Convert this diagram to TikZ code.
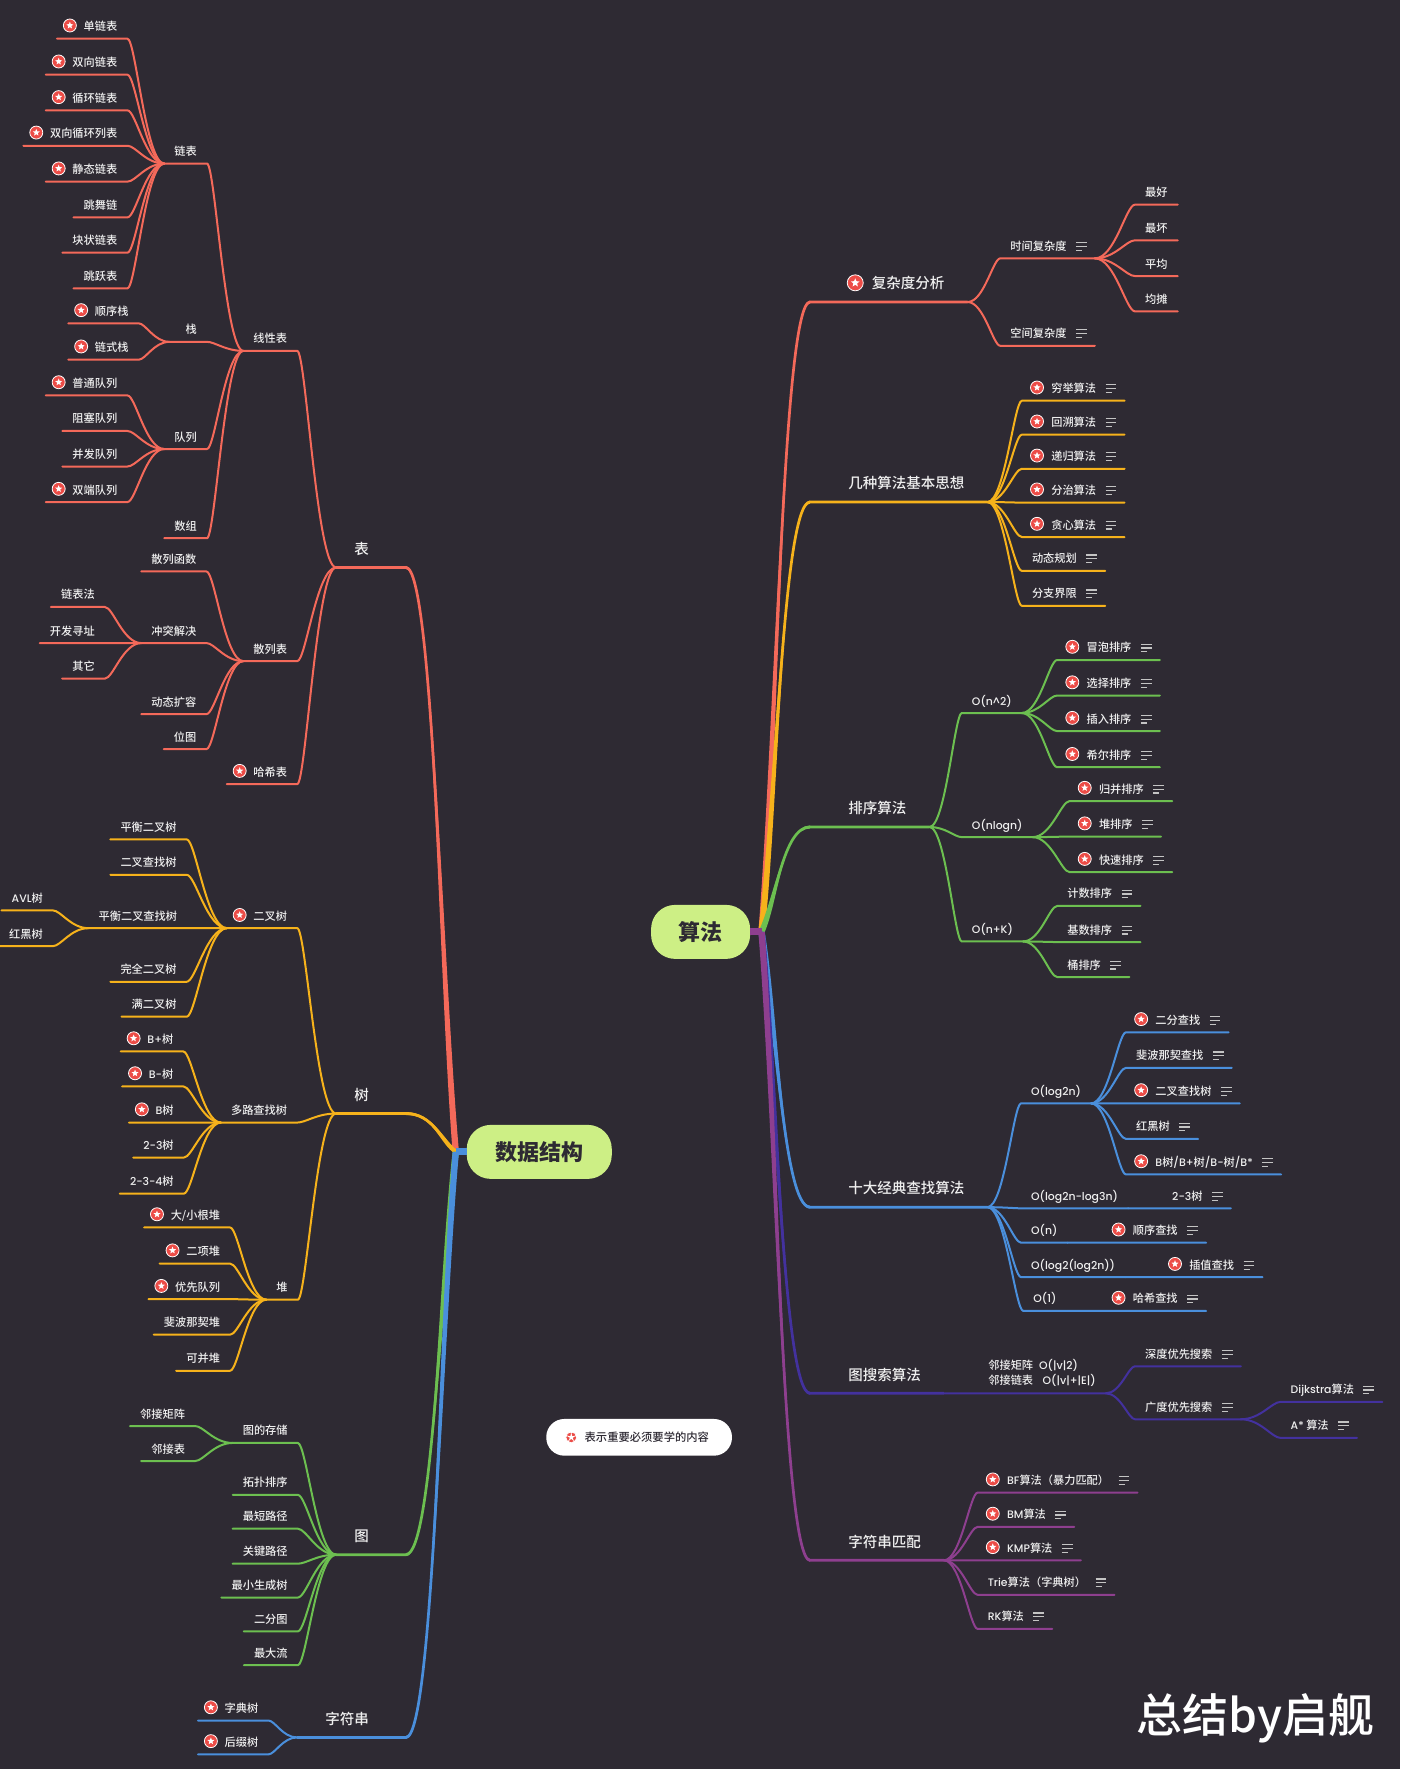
\documentclass[tikz,border=0pt]{standalone}
\usepackage{xcolor}
\usepackage{fontspec}
\setmainfont{Noto Sans CJK SC Medium}
\newfontfamily\lat[Scale=0.97]{Poppins Medium}
\usepackage{tikz}
\usetikzlibrary{calc}

\definecolor{cBg}{HTML}{2E2A33}
\definecolor{cText}{HTML}{EFEFEF}
\definecolor{cNote}{HTML}{C4C4C4}
\definecolor{cRoot}{HTML}{CDEF85}
\definecolor{cStar}{HTML}{EC4C47}
\definecolor{cRed}{HTML}{F4695A}
\definecolor{cOrange}{HTML}{F6B21B}
\definecolor{cGreen}{HTML}{6CBF50}
\definecolor{cBlue}{HTML}{4A8FDC}
\definecolor{cIndigo}{HTML}{43319E}
\definecolor{cPurple}{HTML}{8E3F8F}

\newcommand{\noteicon}{\hspace*{9.5pt}\raisebox{-.5pt}{\color{cNote}\vbox{\hrule width 10.7pt height 1.1pt \vskip 2.8pt \hrule width 10.7pt height 1.1pt \vskip 2.8pt \hrule width 6pt height 1.1pt}}\hspace*{-2pt}}
\newcommand{\starmark}[2]{
  \coordinate (sm) at ([xshift=#1]path picture bounding box.west);
  \fill[cStar, draw=white, line width=.8pt] (sm) circle (#2);
  \fill[white] ([shift={(90:.57*#2)}]sm) -- ([shift={(126:.25*#2)}]sm) -- ([shift={(162:.57*#2)}]sm)
    -- ([shift={(198:.25*#2)}]sm) -- ([shift={(234:.57*#2)}]sm) -- ([shift={(270:.25*#2)}]sm)
    -- ([shift={(306:.57*#2)}]sm) -- ([shift={(342:.25*#2)}]sm) -- ([shift={(18:.57*#2)}]sm)
    -- ([shift={(54:.25*#2)}]sm) -- cycle;
}
\newcommand{\trunk}[5]{
  \fill[#1] ([xshift=-3.2pt]#2) .. controls ($(#2)!.3!(#3)+(-2.4pt,0)$) and ($(#3)+(#5,0)+(0,-1.5pt)$) .. ($(#3)+(0,-1.5pt)$)
    -- ($(#3)+(0,1.5pt)$) .. controls ($(#3)+(#5,0)+(0,1.5pt)$) and ($(#2)!.3!(#3)+(2.4pt,0)$) .. ([xshift=3.2pt]#2) -- cycle;
  \draw[#1, line width=2.7pt] (#2) .. controls ($(#2)!.3!(#3)$) and ($(#3)+(#5,0)$) .. (#3) -- (#4);
}

\begin{document}
\begin{tikzpicture}[
  x=1.1281pt, y=-1.1281pt,
  leaf/.style = {inner xsep=10pt, inner ysep=0pt, minimum height=26pt, text=cText,
                 font=\fontsize{11.2}{14}\selectfont, text height=11.9pt, text depth=1.5pt},
  ln/.style   = {leaf, anchor=south east},
  rn/.style   = {leaf, anchor=south west},
  ltop/.style = {ln, inner xsep=18pt, minimum height=38pt, font=\fontsize{14.5}{18}\selectfont,
                 text height=14pt, text depth=2pt},
  rtop/.style = {rn, inner xsep=16pt, minimum height=38pt, font=\fontsize{14.5}{18}\selectfont,
                 text height=14pt, text depth=2pt, execute at end node={\hspace*{7pt}}},
  prio/.style = {execute at begin node={\hspace*{16.5pt}}, path picture={\starmark{12.7pt}{6.5pt}}},
  rprio/.style = {execute at begin node={\hspace*{19.3pt}}, path picture={\starmark{15pt}{6.5pt}}},
  bigprio/.style = {execute at begin node={\hspace*{23.7pt}}, path picture={\starmark{23pt}{8pt}}},
  rootnode/.style = {fill=cRoot, text=cBg, rounded corners=24pt, minimum height=54pt,
                 font=\fontsize{22}{26}\selectfont\bfseries},
  ltree/.style = {line width=2pt, line cap=round, line join=round, to path={(\tikztostart.south west)
                 .. controls ($(\tikztostart.south west)!.5!(\tikztotarget.south east |- \tikztostart.south west)$)
                 and ($(\tikztotarget.south east)!.22!(\tikztostart.south west |- \tikztotarget.south east)$)
                 .. (\tikztotarget.south east) -- (\tikztotarget.south west)}},
  rtree/.style = {line width=2pt, line cap=round, line join=round, to path={(\tikztostart.south east)
                 .. controls ($(\tikztostart.south east)!.5!(\tikztotarget.south west |- \tikztostart.south east)$)
                 and ($(\tikztotarget.south west)!.22!(\tikztostart.south east |- \tikztotarget.south west)$)
                 .. (\tikztotarget.south west) -- (\tikztotarget.south east)}}
]
  \useasboundingbox (0,0) rectangle (1241,1568);
  \fill[cBg] (0,0) rectangle (1241,1568);

  \node[rootnode, minimum width=145pt] (ds) at (478,1021) {数据结构};
  \node[rootnode, minimum width=99pt] (al) at (621,826) {算法};
  \coordinate (dsHub) at (404,1021);
  \coordinate (alHub) at (675,826);

  \node[ltop] (biao) at (343,503) {表};
  \node[ltop] (shu) at (343,987) {树};
  \node[ltop] (tu) at (343,1378) {图};
  \node[ltop] (zfc) at (343,1540) {\hspace*{10pt}字符串};

  \node[ln] (xxb) at (263.5,311) {线性表};
  \node[ln] (lb) at (183.5,145) {链表};
  \node[ln, prio] (dlb) at (113,34.3) {单链表};
  \node[ln, prio] (sxlb) at (113,66.2) {双向链表};
  \node[ln, prio] (xhlb) at (113,97.8) {循环链表};
  \node[ln, prio] (sxxh) at (113,129.2) {双向循环列表};
  \node[ln, prio] (jtlb) at (113,161) {静态链表};
  \node[ln] (twl) at (113,192.7) {跳舞链};
  \node[ln] (kzlb) at (113,224) {块状链表};
  \node[ln] (tyb) at (113,255.6) {跳跃表};
  \node[ln] (zhan) at (183.5,303) {\hspace*{6pt}栈};
  \node[ln, prio] (sxz) at (123,286.6) {顺序栈};
  \node[ln, prio] (lsz) at (123,318.8) {链式栈};
  \node[ln] (dl) at (183.5,398) {队列};
  \node[ln, prio] (ptdl) at (113,350.5) {普通队列};
  \node[ln] (zsdl) at (113,382) {阻塞队列};
  \node[ln] (bfdl) at (113,413.5) {并发队列};
  \node[ln, prio] (sddl) at (113,445) {双端队列};
  \node[ln] (sz) at (183.5,477) {数组};
  \node[ln] (slb) at (263.5,586) {散列表};
  \node[ln] (slhs) at (183,506.5) {散列函数};
  \node[ln] (ctjj) at (183,570) {冲突解决};
  \node[ln] (lbf) at (93,538) {链表法};
  \node[ln] (kfxz) at (93,570) {开发寻址};
  \node[ln] (qt) at (93,601.5) {其它};
  \node[ln] (dtkr) at (183,633) {动态扩容};
  \node[ln] (wt) at (183,664) {位图};
  \node[ln, prio] (hxb) at (263.5,695) {哈希表};

  \node[ln, prio] (ecs) at (263.5,822.7) {二叉树};
  \node[ln] (phec) at (165.5,744) {平衡二叉树};
  \node[ln] (eccz) at (165.5,775.4) {二叉查找树};
  \node[ln] (pheccz) at (166,822.7) {平衡二叉查找树};
  \node[ln] (avl) at (47,807) {{\lat AVL}树};
  \node[ln] (hhs) at (47,838.6) {红黑树};
  \node[ln] (wqec) at (165.5,870.2) {完全二叉树};
  \node[ln] (mec) at (165.5,901.2) {满二叉树};
  \node[ln] (dlcz) at (263.5,995) {多路查找树};
  \node[ln, prio] (bps) at (162.6,932) {{\lat B+}树};
  \node[ln, prio] (bms) at (162.6,963) {{\lat B-}树};
  \node[ln, prio] (bs) at (163,995) {{\lat B}树};
  \node[ln] (es) at (163,1026) {{\lat 2-3}树};
  \node[ln] (esf) at (163,1058) {{\lat 2-3-4}树};
  \node[ln] (dui) at (264,1152) {堆};
  \node[ln, prio] (dxgd) at (204,1088) {大/小根堆};
  \node[ln, prio] (exd) at (204,1120) {二项堆};
  \node[ln, prio] (yxdl) at (204,1151.5) {优先队列};
  \node[ln] (fbd) at (204,1183) {斐波那契堆};
  \node[ln] (kbd) at (204,1215) {可并堆};

  \node[ln] (tdcc) at (264,1279) {图的存储};
  \node[ln] (ljjz) at (173,1264) {邻接矩阵};
  \node[ln] (ljb) at (173,1295) {邻接表};
  \node[ln] (tppx) at (264,1325) {拓扑排序};
  \node[ln] (zdlj) at (264,1355) {最短路径};
  \node[ln] (gjlj) at (264,1386) {关键路径};
  \node[ln] (zxsc) at (264,1416) {最小生成树};
  \node[ln] (eft) at (264,1446) {二分图};
  \node[ln] (zdl) at (264,1476) {最大流};
  \node[ln, prio] (zds) at (238,1525) {字典树};
  \node[ln, prio] (hzs) at (238,1555) {后缀树};

  \node[rtop, bigprio] (fzd) at (737.5,267.7) {复杂度分析};
  \node[rtop] (jzsf) at (737.5,445) {几种算法基本思想};
  \node[rtop] (pxsf) at (737.5,733) {排序算法};
  \node[rtop] (czsf) at (737.5,1070) {十大经典查找算法};
  \node[rtop] (tss) at (737.5,1235) {图搜索算法};
  \node[rtop] (zfcpp) at (737.5,1383) {字符串匹配};

  \node[rn] (sjfz) at (886.6,229) {时间复杂度\noteicon};
  \node[rn] (kjfz) at (886.6,306.5) {空间复杂度\noteicon};
  \node[rn] (zh) at (1006,181.4) {最好};
  \node[rn] (zhuai) at (1006,213) {最坏};
  \node[rn] (pj) at (1006,244.7) {平均};
  \node[rn] (jt) at (1006,276) {均摊};

  \node[rn, rprio] (qj) at (905.7,355.2) {穷举算法\noteicon};
  \node[rn, rprio] (hs) at (905.7,385.3) {回溯算法\noteicon};
  \node[rn, rprio] (dg) at (905.7,415.5) {递归算法\noteicon};
  \node[rn, rprio] (fz) at (905.7,445.5) {分治算法\noteicon};
  \node[rn, rprio] (tx) at (905.7,476) {贪心算法\noteicon};
  \node[rn] (dtgh) at (905.7,506) {动态规划\noteicon};
  \node[rn] (fzjx) at (905.7,537) {分支界限\noteicon};

  \node[rn] (on2) at (852.5,632) {{\lat O(n\textasciicircum2)}};
  \node[rn] (onl) at (852.5,742) {{\lat O(nlogn)}};
  \node[rn] (onk) at (852.5,834.5) {{\lat O(n+K)}};
  \node[rn, rprio] (mp) at (937,585) {冒泡排序\noteicon};
  \node[rn, rprio] (xz) at (937,616.5) {选择排序\noteicon};
  \node[rn, rprio] (cr) at (937,648) {插入排序\noteicon};
  \node[rn, rprio] (xe) at (937,680) {希尔排序\noteicon};
  \node[rn, rprio] (gb) at (948,710) {归并排序\noteicon};
  \node[rn, rprio] (dpx) at (948,741.5) {堆排序\noteicon};
  \node[rn, rprio] (ks) at (948,773) {快速排序\noteicon};
  \node[rn] (js) at (937,803) {计数排序\noteicon};
  \node[rn] (jspx) at (937,835) {基数排序\noteicon};
  \node[rn] (tpx) at (937,866) {桶排序\noteicon};

  \node[rn] (ol2) at (905,978) {{\lat O(log2n)}};
  \node[rn, rprio] (efcz) at (998,915) {二分查找\noteicon};
  \node[rn] (fbcz) at (998,946.5) {斐波那契查找\noteicon};
  \node[rn, rprio] (ecczs) at (998,978) {二叉查找树\noteicon};
  \node[rn] (hhsr) at (998,1009.5) {红黑树\noteicon};
  \node[rn, rprio] (bsh) at (998,1041) {{\lat B}树{\lat /B+}树{\lat /B-}树{\lat /B*}\noteicon};
  \node[rn] (ol23) at (905,1071) {{\lat O(log2n-log3n)}};
  \node[rn] (essr) at (1030,1071) {{\lat 2-3}树\noteicon};
  \node[rn] (onn) at (905,1101.5) {{\lat O(n)}};
  \node[rn, rprio] (sxcz) at (978,1101.5) {顺序查找\noteicon};
  \node[rn] (oll) at (905,1132) {{\lat O(log2(log2n))}};
  \node[rn, rprio] (czcz) at (1028,1132) {插值查找\noteicon};
  \node[rn] (oo) at (907,1162) {{\lat O(1)}};
  \node[rn, rprio] (hxcz) at (978,1162) {哈希查找\noteicon};

  \node[rn, align=left, minimum height=40pt, text height=, text depth=] (ljfs) at (867,1235)
      {邻接矩阵\hspace*{6pt}{\lat O(|v|2)}\\[1pt]邻接链表\hspace*{9.5pt}{\lat O(|v|+|E|)}};
  \node[rn] (sd) at (1006,1211) {深度优先搜索\noteicon};
  \node[rn] (gd) at (1006,1258) {广度优先搜索\noteicon};
  \node[rn] (dij) at (1135,1242.6) {{\lat Dijkstra}算法\noteicon};
  \node[rn] (astar) at (1135,1274.5) {{\lat A*} 算法\noteicon};

  \node[rn, rprio] (bf) at (866.5,1323) {{\lat BF}算法（暴力匹配）\noteicon};
  \node[rn, rprio] (bm) at (866.5,1353.4) {{\lat BM}算法\noteicon};
  \node[rn, rprio] (kmp) at (866.5,1383) {{\lat KMP}算法\noteicon};
  \node[rn] (trie) at (866.5,1413.6) {{\lat Trie}算法（字典树）\noteicon};
  \node[rn] (rk) at (866.5,1443.8) {{\lat RK}算法\noteicon};

  \node[fill=white, rounded corners=18pt, inner xsep=23pt, minimum height=36.7pt, text=cBg,
        font=\fontsize{11.3}{14}\selectfont, execute at begin node={\hspace*{15.4pt}},
        path picture={\starmark{25pt}{5.5pt}}] (legend) at (566.5,1274) {表示重要必须要学的内容};
  \node[text=white, font=\fontsize{46}{52}\selectfont] (mark) at (1113,1523) {总结by启舰};

  \trunk{cRed}{dsHub}{[xshift=19pt]biao.south east}{biao.south west}{24}
  \trunk{cOrange}{dsHub}{[xshift=19pt]shu.south east}{shu.south west}{24}
  \trunk{cGreen}{dsHub}{[xshift=19pt]tu.south east}{tu.south west}{24}
  \trunk{cBlue}{dsHub}{[xshift=19pt]zfc.south east}{zfc.south west}{24}
  \draw[cBlue, line width=7pt] (ds.west) -- (dsHub);
  \trunk{cRed}{alHub}{[xshift=-22pt]fzd.south west}{fzd.south east}{-24}
  \trunk{cOrange}{alHub}{[xshift=-22pt]jzsf.south west}{jzsf.south east}{-24}
  \trunk{cGreen}{alHub}{[xshift=-22pt]pxsf.south west}{pxsf.south east}{-24}
  \trunk{cBlue}{alHub}{[xshift=-22pt]czsf.south west}{czsf.south east}{-24}
  \trunk{cIndigo}{alHub}{[xshift=-22pt]tss.south west}{tss.south east}{-24}
  \trunk{cPurple}{alHub}{[xshift=-22pt]zfcpp.south west}{zfcpp.south east}{-24}
  \draw[cPurple, line width=7pt] (al.east) -- (alHub);

  \draw[ltree, cRed] (biao) to (xxb);
  \draw[ltree, cRed] (biao) to (slb);
  \draw[ltree, cRed] (biao) to (hxb);
  \draw[ltree, cRed] (xxb) to (lb);
  \draw[ltree, cRed] (xxb) to (zhan);
  \draw[ltree, cRed] (xxb) to (dl);
  \draw[ltree, cRed] (xxb) to (sz);
  \draw[ltree, cRed] (lb) to (dlb);
  \draw[ltree, cRed] (lb) to (sxlb);
  \draw[ltree, cRed] (lb) to (xhlb);
  \draw[ltree, cRed] (lb) to (sxxh);
  \draw[ltree, cRed] (lb) to (jtlb);
  \draw[ltree, cRed] (lb) to (twl);
  \draw[ltree, cRed] (lb) to (kzlb);
  \draw[ltree, cRed] (lb) to (tyb);
  \draw[ltree, cRed] (zhan) to (sxz);
  \draw[ltree, cRed] (zhan) to (lsz);
  \draw[ltree, cRed] (dl) to (ptdl);
  \draw[ltree, cRed] (dl) to (zsdl);
  \draw[ltree, cRed] (dl) to (bfdl);
  \draw[ltree, cRed] (dl) to (sddl);
  \draw[ltree, cRed] (slb) to (slhs);
  \draw[ltree, cRed] (slb) to (ctjj);
  \draw[ltree, cRed] (slb) to (dtkr);
  \draw[ltree, cRed] (slb) to (wt);
  \draw[ltree, cRed] (ctjj) to (lbf);
  \draw[ltree, cRed] (ctjj) to (kfxz);
  \draw[ltree, cRed] (ctjj) to (qt);

  \draw[ltree, cOrange] (shu) to (ecs);
  \draw[ltree, cOrange] (shu) to (dlcz);
  \draw[ltree, cOrange] (shu) to (dui);
  \draw[ltree, cOrange] (ecs) to (phec);
  \draw[ltree, cOrange] (ecs) to (eccz);
  \draw[ltree, cOrange] (ecs) to (pheccz);
  \draw[ltree, cOrange] (ecs) to (wqec);
  \draw[ltree, cOrange] (ecs) to (mec);
  \draw[ltree, cOrange] (pheccz) to (avl);
  \draw[ltree, cOrange] (pheccz) to (hhs);
  \draw[ltree, cOrange] (dlcz) to (bps);
  \draw[ltree, cOrange] (dlcz) to (bms);
  \draw[ltree, cOrange] (dlcz) to (bs);
  \draw[ltree, cOrange] (dlcz) to (es);
  \draw[ltree, cOrange] (dlcz) to (esf);
  \draw[ltree, cOrange] (dui) to (dxgd);
  \draw[ltree, cOrange] (dui) to (exd);
  \draw[ltree, cOrange] (dui) to (yxdl);
  \draw[ltree, cOrange] (dui) to (fbd);
  \draw[ltree, cOrange] (dui) to (kbd);

  \draw[ltree, cGreen] (tu) to (tdcc);
  \draw[ltree, cGreen] (tu) to (tppx);
  \draw[ltree, cGreen] (tu) to (zdlj);
  \draw[ltree, cGreen] (tu) to (gjlj);
  \draw[ltree, cGreen] (tu) to (zxsc);
  \draw[ltree, cGreen] (tu) to (eft);
  \draw[ltree, cGreen] (tu) to (zdl);
  \draw[ltree, cGreen] (tdcc) to (ljjz);
  \draw[ltree, cGreen] (tdcc) to (ljb);
  \draw[ltree, cBlue] (zfc) to (zds);
  \draw[ltree, cBlue] (zfc) to (hzs);

  \draw[rtree, cRed] (fzd) to (sjfz);
  \draw[rtree, cRed] (fzd) to (kjfz);
  \draw[rtree, cRed] (sjfz) to (zh);
  \draw[rtree, cRed] (sjfz) to (zhuai);
  \draw[rtree, cRed] (sjfz) to (pj);
  \draw[rtree, cRed] (sjfz) to (jt);

  \draw[rtree, cOrange] (jzsf) to (qj);
  \draw[rtree, cOrange] (jzsf) to (hs);
  \draw[rtree, cOrange] (jzsf) to (dg);
  \draw[rtree, cOrange] (jzsf) to (fz);
  \draw[rtree, cOrange] (jzsf) to (tx);
  \draw[rtree, cOrange] (jzsf) to (dtgh);
  \draw[rtree, cOrange] (jzsf) to (fzjx);

  \draw[rtree, cGreen] (pxsf) to (on2);
  \draw[rtree, cGreen] (pxsf) to (onl);
  \draw[rtree, cGreen] (pxsf) to (onk);
  \draw[rtree, cGreen] (on2) to (mp);
  \draw[rtree, cGreen] (on2) to (xz);
  \draw[rtree, cGreen] (on2) to (cr);
  \draw[rtree, cGreen] (on2) to (xe);
  \draw[rtree, cGreen] (onl) to (gb);
  \draw[rtree, cGreen] (onl) to (dpx);
  \draw[rtree, cGreen] (onl) to (ks);
  \draw[rtree, cGreen] (onk) to (js);
  \draw[rtree, cGreen] (onk) to (jspx);
  \draw[rtree, cGreen] (onk) to (tpx);

  \draw[rtree, cBlue] (czsf) to (ol2);
  \draw[rtree, cBlue] (czsf) to (ol23);
  \draw[rtree, cBlue] (czsf) to (onn);
  \draw[rtree, cBlue] (czsf) to (oll);
  \draw[rtree, cBlue] (czsf) to (oo);
  \draw[rtree, cBlue] (ol2) to (efcz);
  \draw[rtree, cBlue] (ol2) to (fbcz);
  \draw[rtree, cBlue] (ol2) to (ecczs);
  \draw[rtree, cBlue] (ol2) to (hhsr);
  \draw[rtree, cBlue] (ol2) to (bsh);
  \draw[rtree, cBlue] (ol23) to (essr);
  \draw[rtree, cBlue] (onn) to (sxcz);
  \draw[rtree, cBlue] (oll) to (czcz);
  \draw[rtree, cBlue] (oo) to (hxcz);

  \draw[rtree, cIndigo] (tss) to (ljfs);
  \draw[rtree, cIndigo] (ljfs) to (sd);
  \draw[rtree, cIndigo] (ljfs) to (gd);
  \draw[rtree, cIndigo] (gd) to (dij);
  \draw[rtree, cIndigo] (gd) to (astar);

  \draw[rtree, cPurple] (zfcpp) to (bf);
  \draw[rtree, cPurple] (zfcpp) to (bm);
  \draw[rtree, cPurple] (zfcpp) to (kmp);
  \draw[rtree, cPurple] (zfcpp) to (trie);
  \draw[rtree, cPurple] (zfcpp) to (rk);
\end{tikzpicture}
\end{document}
